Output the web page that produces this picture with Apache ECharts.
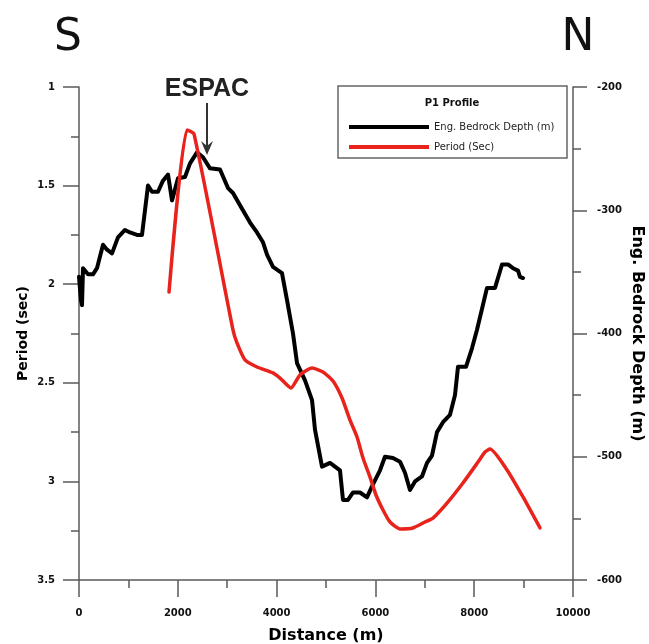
<!DOCTYPE html>
<html>
<head>
<meta charset="utf-8">
<script src="https://cdn.jsdelivr.net/npm/echarts@6/dist/echarts.min.js"></script>
<style>html,body{margin:0;padding:0;background:#fff;overflow:hidden}#c{width:649px;height:644px}</style>
</head>
<body>
<div id="c"></div>
<script>
// Eng. Bedrock Depth (m) vs distance (right axis)
const depthDistance = [0,40,61,81,101,182,283,364,486,567,668,789,931,1032,1174,1275,1397,1478,1599,1700,1802,1883,2004,2146,2247,2389,2510,2652,2854,3016,3117,3259,3462,3603,3725,3806,3927,4109,4211,4332,4413,4575,4717,4777,4919,5081,5182,5283,5344,5445,5547,5688,5830,5931,6032,6093,6194,6356,6498,6599,6700,6802,6943,7045,7146,7247,7368,7510,7611,7672,7834,7955,8057,8259,8421,8563,8684,8785,8887,8927,8988];
const depthValues = [-354,-373,-377,-347,-348,-352,-352,-347,-328,-332,-335,-322,-316,-318,-320,-320,-280,-285,-285,-276,-271,-292,-274,-273,-262,-253,-257,-266,-267,-282,-286,-296,-310,-318,-326,-336,-346,-351,-373,-400,-424,-438,-454,-478,-508,-505,-508,-511,-535,-535,-529,-529,-533,-524,-516,-511,-500,-501,-504,-513,-527,-520,-516,-505,-499,-480,-472,-466,-450,-427,-427,-412,-397,-363,-363,-344,-344,-347,-349,-354,-355];
// Period (Sec) vs distance (left axis)
const periodDistance = [1822,2186,2328,3117,3198,3360,3603,3927,4069,4291,4474,4717,4939,5142,5324,5486,5628,5749,5891,6012,6154,6296,6498,6761,7004,7166,7449,7773,8077,8219,8320,8664,8988,9332];
const periodValues = [2.04,1.218,1.238,2.232,2.298,2.384,2.42,2.45,2.476,2.526,2.46,2.425,2.445,2.491,2.577,2.689,2.775,2.881,2.978,3.069,3.145,3.206,3.241,3.236,3.206,3.186,3.11,3.008,2.902,2.851,2.836,2.942,3.079,3.236];

const seriesNames = ['Eng. Bedrock Depth (m)', 'Period (Sec)'];
const legendTitle = 'P1 Profile';
const annotation = 'ESPAC';

const FONT = 'DejaVu Sans';
const AX = '#5a5a5a';

const chart = echarts.init(document.getElementById('c'), null, {renderer: 'canvas'});

function label(margin) {
  return {color: '#111', fontFamily: FONT, fontWeight: 'bold', fontSize: 10, margin: margin,
          formatter: v => String(v)};
}
function nameStyle(size) {
  return {color: '#000', fontFamily: FONT, fontWeight: 'bold', fontSize: size};
}

function axisCommon(extra) {
  return Object.assign({
    axisLine: {show: true, onZero: false, lineStyle: {color: AX, width: 1.5}},
    axisTick: {show: true, inside: false, length: 16, lineStyle: {color: AX, width: 1.5}},
    minorTick: {show: true, splitNumber: 2, length: 8, lineStyle: {color: AX, width: 1.5}},
    splitLine: {show: false},
    minorSplitLine: {show: false},
    nameLocation: 'middle',
    nameMoveOverlap: false
  }, extra);
}

chart.setOption({
  animation: false,
  backgroundColor: '#fff',
  grid: {left: 79, right: 76, top: 87, bottom: 64, containLabel: false, outerBoundsMode: 'none'},
  xAxis: axisCommon({
    type: 'value', min: 0, max: 10000, interval: 2000,
    name: 'Distance (m)', nameGap: 48, nameTextStyle: nameStyle(16),
    axisTick: {show: true, inside: false, length: 17, lineStyle: {color: AX, width: 1.5}},
    axisLabel: label(28)
  }),
  yAxis: [
    axisCommon({
      type: 'value', min: 1, max: 3.5, interval: 0.5, inverse: true, position: 'left',
      name: 'Period (sec)', nameGap: 49, nameTextStyle: nameStyle(14),
      axisLabel: label(24)
    }),
    axisCommon({
      type: 'value', min: -600, max: -200, interval: 100, position: 'right',
      name: 'Eng. Bedrock Depth (m)', nameGap: 56, nameRotate: -90, nameTextStyle: nameStyle(16),
      axisTick: {show: true, inside: false, length: 14, lineStyle: {color: AX, width: 1.5}},
      axisLabel: label(24)
    })
  ],
  legend: {
    show: true, orient: 'vertical', left: 344, top: 115,
    icon: 'rect', itemWidth: 80, itemHeight: 4, itemGap: 6,
    textStyle: {fontFamily: FONT, fontSize: 10, color: '#222', lineHeight: 14},
    data: seriesNames
  },
  series: [
    {
      name: seriesNames[0], type: 'line', xAxisIndex: 0, yAxisIndex: 1,
      data: depthDistance.map((d, i) => [d, depthValues[i]]),
      showSymbol: false, symbol: 'none',
      lineStyle: {color: '#000', width: 4, join: 'round', cap: 'round'},
      itemStyle: {color: '#000'}
    },
    {
      name: seriesNames[1], type: 'line', xAxisIndex: 0, yAxisIndex: 0,
      data: periodDistance.map((d, i) => [d, periodValues[i]]),
      showSymbol: false, symbol: 'none', smooth: 0.2,
      lineStyle: {color: '#e8231c', width: 3.5, join: 'round', cap: 'round'},
      itemStyle: {color: '#e8231c'}
    }
  ],
  graphic: [
    {type: 'rect', shape: {x: 338, y: 86, width: 229, height: 72},
     style: {fill: '#fff', stroke: '#666', lineWidth: 1.5}, z: -1, silent: true},
    {type: 'text', x: 452, y: 103, z: 10,
     style: {text: legendTitle, fontFamily: FONT, fontWeight: 'bold', fontSize: 10, fill: '#111', align: 'center', verticalAlign: 'middle'}},
    {type: 'text', x: 68, y: 39, z: 10,
     style: {text: 'S', fontFamily: FONT, fontSize: 44, fill: '#111', align: 'center', verticalAlign: 'middle'}},
    {type: 'text', x: 578, y: 39, z: 10,
     style: {text: 'N', fontFamily: FONT, fontSize: 44, fill: '#111', align: 'center', verticalAlign: 'middle'}},
    {type: 'text', x: 207, y: 89, z: 10,
     style: {text: annotation, fontFamily: 'Liberation Sans', fontWeight: 'bold', fontSize: 25, fill: '#222', align: 'center', verticalAlign: 'middle'}},
    {type: 'line', shape: {x1: 207, y1: 103, x2: 207, y2: 152}, z: 10,
     style: {stroke: '#333', lineWidth: 2}},
    {type: 'polygon', shape: {points: [[201, 141], [207, 155], [213, 141], [207, 146]]}, z: 10,
     style: {fill: '#333'}}
  ]
});
</script>
</body>
</html>
